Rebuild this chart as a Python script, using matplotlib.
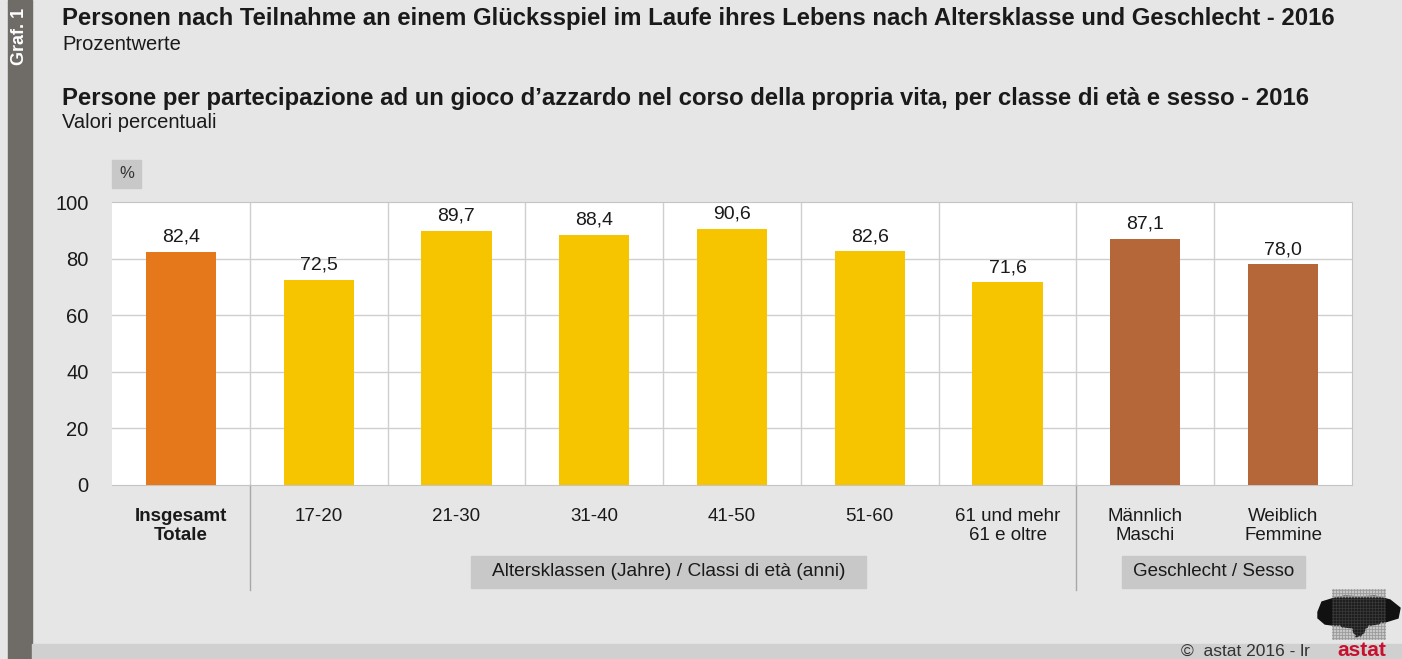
import numpy as np
import matplotlib.pyplot as plt
from matplotlib.patches import Rectangle
from matplotlib.path import Path

# data
categories = ['Insgesamt\nTotale', '17-20', '21-30', '31-40', '41-50', '51-60',
              '61 und mehr\n61 e oltre', 'Männlich\nMaschi', 'Weiblich\nFemmine']
values = [82.4, 72.5, 89.7, 88.4, 90.6, 82.6, 71.6, 87.1, 78.0]
groups = ['total', 'age', 'age', 'age', 'age', 'age', 'age', 'sex', 'sex']
yticks = [0, 20, 40, 60, 80, 100]

colors = {'total': '#e5781a', 'age': '#f7c400', 'sex': '#b5673a'}
W, H = 1402, 659
bg = '#e6e6e6'
txt = '#1a1a1a'

fig = plt.figure(figsize=(W / 100, H / 100), dpi=100, facecolor=bg)
plt.rcParams['font.family'] = ['Liberation Sans', 'DejaVu Sans']


def px(x0, y0, x1, y1):
    # pixel box (top-left origin) -> figure fraction rect
    return [x0 / W, 1 - y1 / H, (x1 - x0) / W, (y1 - y0) / H]


def fx(x):
    return x / W


def fy(y):
    return 1 - y / H


def box(x0, y0, x1, y1, color):
    fig.patches.append(Rectangle((fx(x0), fy(y1)), fx(x1 - x0), (y1 - y0) / H,
                                 transform=fig.transFigure, color=color, zorder=0))


# left strip and bottom band
box(8, 0, 32, H, '#6f6b67')
box(32, 644, W, H, '#d0d0d0')
fig.text(fx(20), fy(8), 'Graf. 1', rotation=90, color='white', fontsize=13,
         fontweight='bold', ha='center', va='top')

# titles
fig.text(fx(62), fy(19), 'Personen nach Teilnahme an einem Glücksspiel im Laufe ihres Lebens '
         'nach Altersklasse und Geschlecht - 2016', fontsize=17.2, fontweight='bold',
         va='center', color=txt)
fig.text(fx(62), fy(45), 'Prozentwerte', fontsize=14.5, va='center', color=txt)
fig.text(fx(62), fy(98), 'Persone per partecipazione ad un gioco d\u2019azzardo nel corso della '
         'propria vita, per classe di età e sesso - 2016', fontsize=17.2, fontweight='bold',
         va='center', color=txt)
fig.text(fx(62), fy(122), 'Valori percentuali', fontsize=14.5, va='center', color=txt)

# chart
ax = fig.add_axes(px(112, 202, 1352, 485))
ax.set_facecolor('white')
x = np.arange(len(values))
ax.bar(x, values, width=0.51, color=[colors[g] for g in groups], zorder=3)
for xi, v in zip(x, values):
    ax.text(xi, v + 2.2, f'{v:.1f}'.replace('.', ','), ha='center', va='bottom',
            fontsize=14, color=txt)

ax.set_xlim(-0.5, len(values) - 0.5)
ax.set_ylim(0, 100)
ax.set_yticks(yticks)
ax.set_yticklabels([str(t) for t in yticks], fontsize=14.5, color=txt)
ax.tick_params(axis='y', length=0, pad=17)
ax.set_xticks(x)
ax.set_xticklabels([])
ax.tick_params(axis='x', length=0)
for t in yticks[1:-1]:
    ax.axhline(t, color='#cfcfcf', lw=1, zorder=1)
for b in np.arange(0.5, len(values) - 1, 1):
    ax.axvline(b, color='#cfcfcf', lw=1, zorder=1)
ax.spines['left'].set_visible(False)
for s in ['top', 'right', 'bottom']:
    ax.spines[s].set_color('#c4c4c4')

for xi, lab in zip(x, categories):
    ax.text(xi, -0.08, lab, transform=ax.get_xaxis_transform(), ha='center', va='top',
            fontsize=13.5, linespacing=1.2, color=txt,
            fontweight='bold' if xi == 0 else 'normal')

# separators between groups
for b in [0.5, 6.5]:
    ax.plot([b, b], [0, -0.37], transform=ax.get_xaxis_transform(), color='#a8a8a8',
            lw=1, clip_on=False)

# group boxes
box(471, 556, 866, 588, '#c8c8c8')
fig.text(fx(668.5), fy(572), 'Altersklassen (Jahre) / Classi di età (anni)', fontsize=13.8,
         ha='center', va='center', color=txt)
box(1122, 556, 1305, 588, '#c8c8c8')
fig.text(fx(1213.5), fy(572), 'Geschlecht / Sesso', fontsize=13.5, ha='center',
         va='center', color=txt)
box(112, 160, 141, 188, '#c8c8c8')
fig.text(fx(126.5), fy(174), '%', fontsize=12, ha='center', va='center', color='#333333')

# footer
fig.text(fx(1310), fy(651), '\u00a9  astat 2016 - lr', fontsize=12.5, ha='right',
         va='center', color='#333333')
fig.text(fx(1362), fy(650), 'astat', fontsize=15, ha='center', va='center',
         color='#c8102e', fontweight='bold')

# logo: dotted grid with dark map silhouette
gx, gy = np.meshgrid(np.arange(1333, 1387, 3), np.arange(590, 640, 3))
pts = np.column_stack([gx.ravel(), gy.ravel()])
shape = Path([(1318, 612), (1322, 602), (1335, 598), (1345, 596), (1360, 597), (1375, 596),
              (1390, 600), (1400, 608), (1398, 618), (1385, 622), (1368, 626), (1362, 634),
              (1356, 637), (1352, 628), (1340, 626), (1325, 624), (1318, 618)])
inside = shape.contains_points(pts)
fig.add_artist(plt.Line2D(fx(pts[~inside, 0]), fy(pts[~inside, 1]), ls='none', marker='o',
                          ms=1.0, color='#9a9a9a', transform=fig.transFigure))
fig.patches.append(plt.Polygon([(fx(a), fy(b)) for a, b in shape.vertices],
                               transform=fig.transFigure, color='#111111', zorder=1))
fig.add_artist(plt.Line2D(fx(pts[inside, 0]), fy(pts[inside, 1]), ls='none', marker='o',
                          ms=0.9, color='#3a3a3a', transform=fig.transFigure))

fig.savefig('out.png', dpi=100, facecolor=bg)
